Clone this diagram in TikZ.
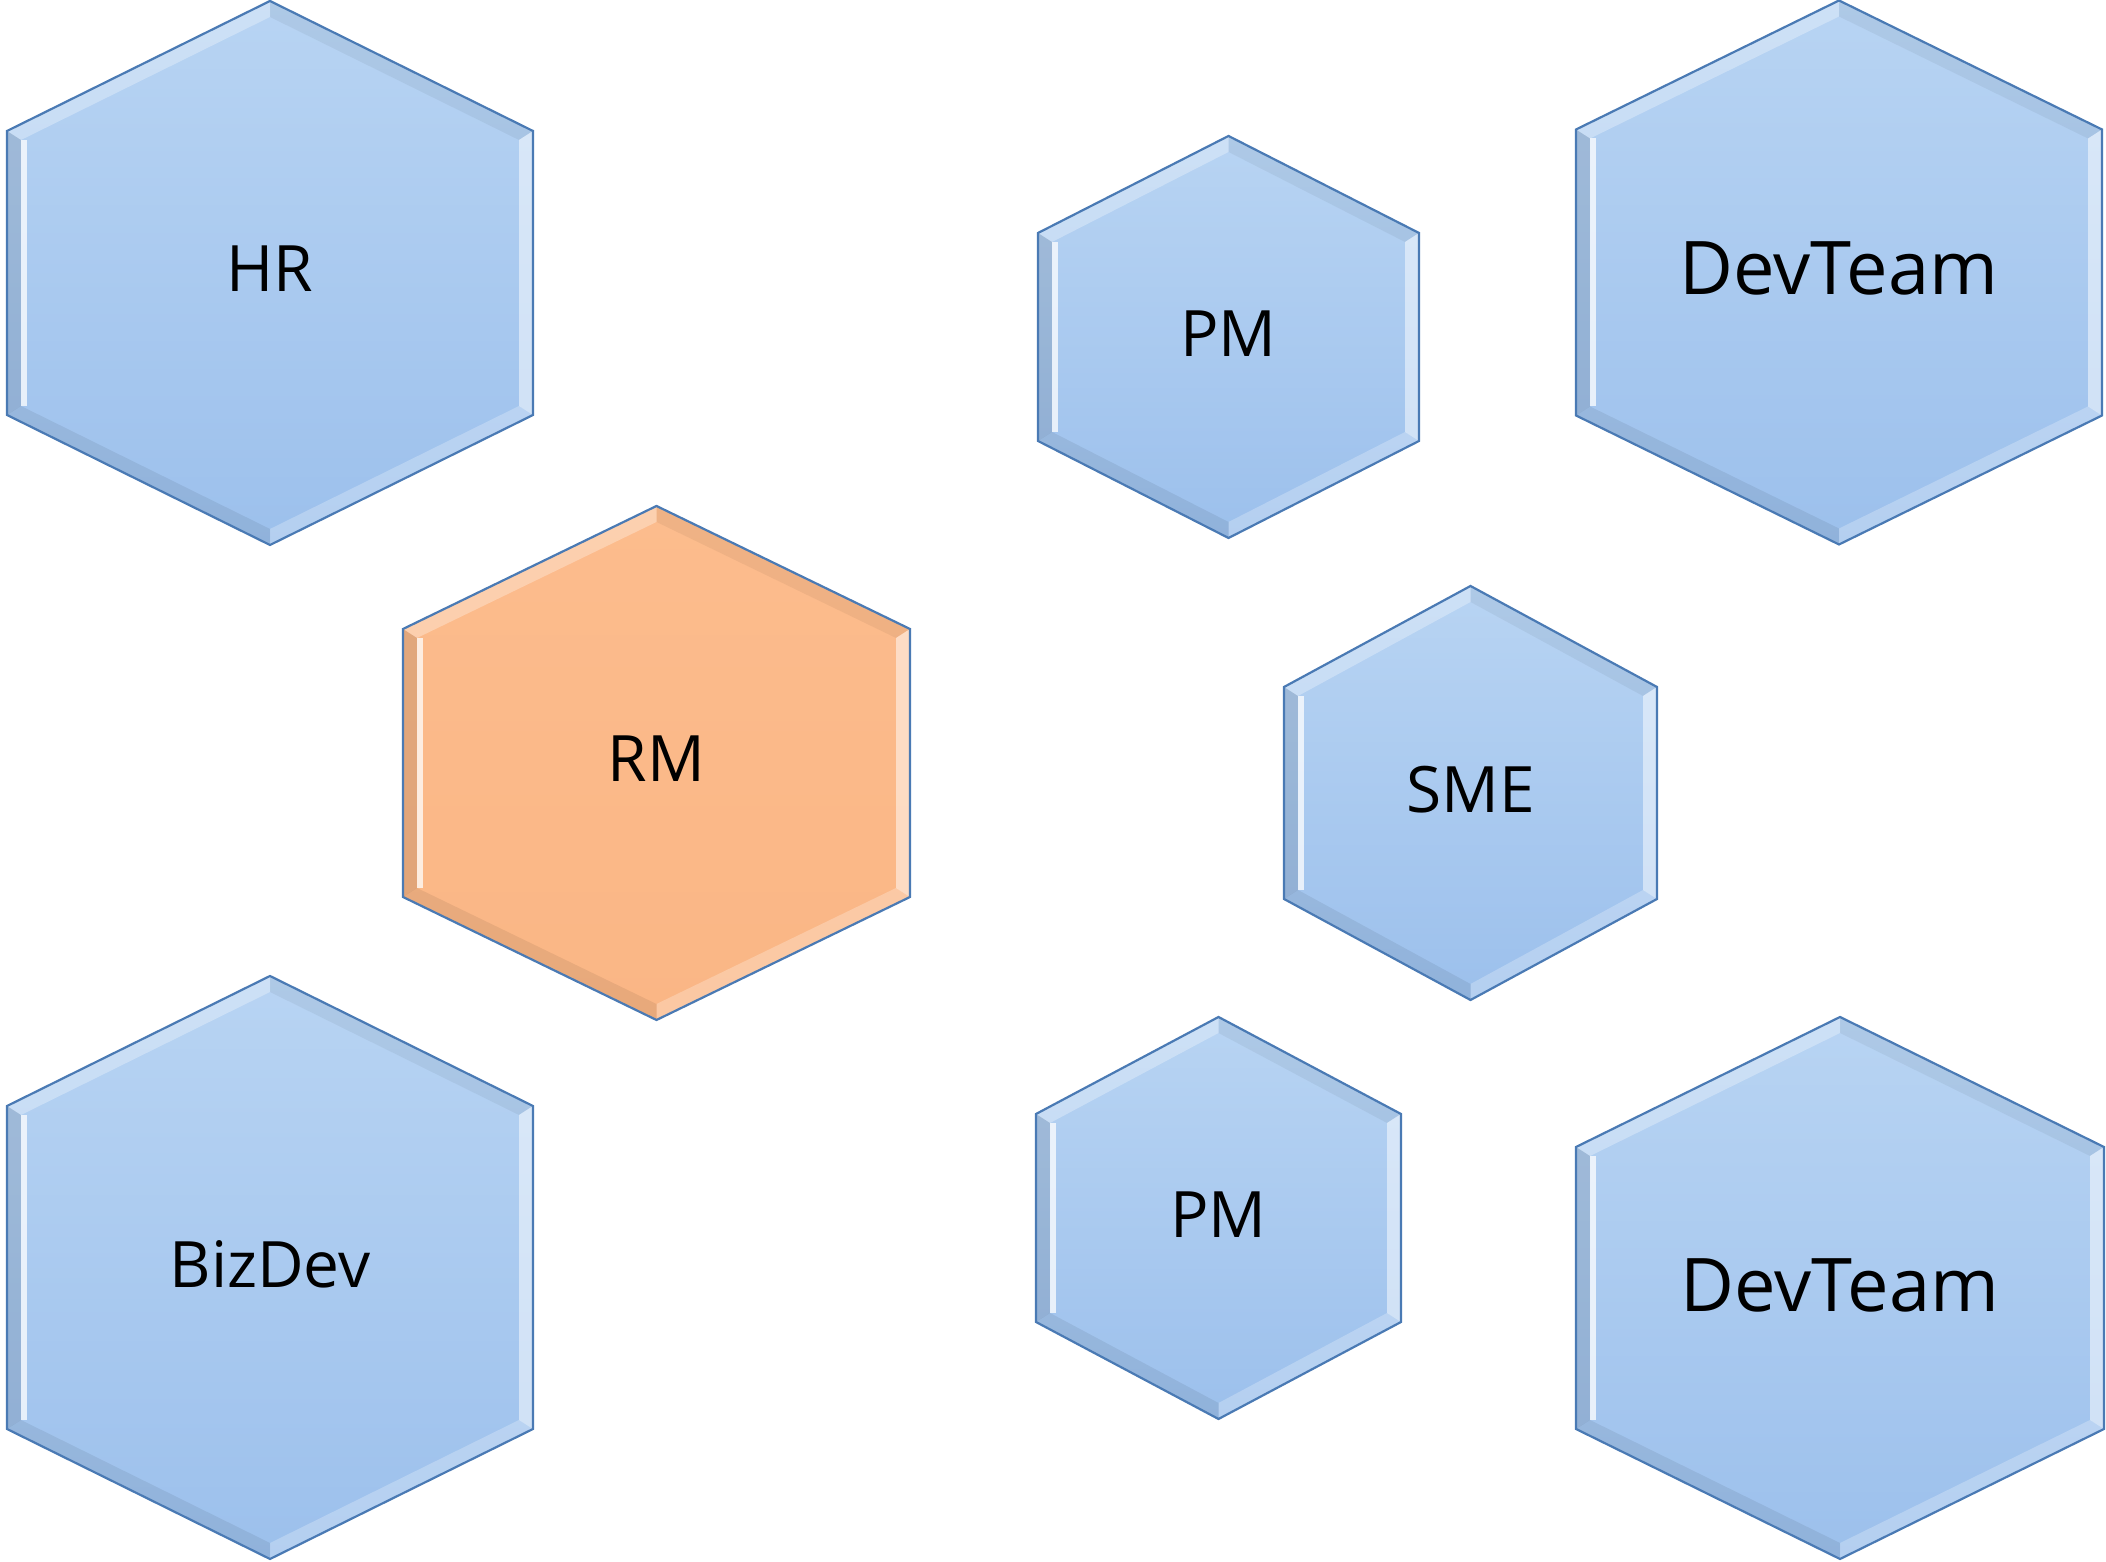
\documentclass[tikz,border=0pt]{standalone}
\usepackage{fontspec}
\setmainfont{Open Sans}
\usepackage{tikz}
\usepackage{xcolor}

\tikzset{
  hexline/.style={draw=lineColor,line width=2.2pt,line join=miter},
  celltext/.style={text=black,anchor=base,inner sep=0pt,outer sep=0pt,font=\fontsize{64}{70}\selectfont},
  bigtext/.style={celltext,font=\fontsize{74}{80}\selectfont}
}

% #1 cx, #2 cy, #3 half width, #4 half height, #5 slant, #6 top colour, #7 bottom colour
\newcommand{\hexcell}[7]{%
\begin{scope}[shift={(#1,#2)}]
\pgfmathsetmacro{\ha}{#3}\pgfmathsetmacro{\hb}{#4}\pgfmathsetmacro{\hs}{#4-#5}
\pgfmathsetmacro{\ia}{#3-14}\pgfmathsetmacro{\ib}{#4-16}\pgfmathsetmacro{\is}{#4-#5-9}
\shade[top color=#6,bottom color=#7] (0,\hb) -- (\ha,\hs) -- (\ha,-\hs) -- (0,-\hb) -- (-\ha,-\hs) -- (-\ha,\hs) -- cycle;
\fill[white,opacity=0.30] (-\ha,\hs) -- (0,\hb) -- (0,\ib) -- (-\ia,\is) -- cycle;
\fill[black,opacity=0.05] (0,\hb) -- (\ha,\hs) -- (\ia,\is) -- (0,\ib) -- cycle;
\fill[white,opacity=0.50] (\ha,\hs) -- (\ha,-\hs) -- (\ia,-\is) -- (\ia,\is) -- cycle;
\fill[white,opacity=0.25] (\ha,-\hs) -- (0,-\hb) -- (0,-\ib) -- (\ia,-\is) -- cycle;
\fill[black,opacity=0.07] (0,-\hb) -- (-\ha,-\hs) -- (-\ia,-\is) -- (0,-\ib) -- cycle;
\fill[black,opacity=0.10] (-\ha,-\hs) -- (-\ha,\hs) -- (-\ia,\is) -- (-\ia,-\is) -- cycle;
\fill[white,opacity=0.75] (-\ia,\is) rectangle (-\ia+6,-\is);
\path[hexline] (0,\hb) -- (\ha,\hs) -- (\ha,-\hs) -- (0,-\hb) -- (-\ha,-\hs) -- (-\ha,\hs) -- cycle;
\end{scope}}

\begin{document}
\begin{tikzpicture}[x=1pt,y=1pt]
\definecolor{fillColor}{RGB}{255,255,255}
\definecolor{lineColor}{RGB}{74,122,180}
\definecolor{blueTop}{RGB}{184,212,243}
\definecolor{blueBot}{RGB}{156,192,236}
\definecolor{orangeTop}{RGB}{252,188,141}
\definecolor{orangeBot}{RGB}{250,182,133}
\path[use as bounding box,fill=fillColor] (0,0) rectangle (2106,1562);

\hexcell{270}{1289}{263}{272}{130}{blueTop}{blueBot}
\hexcell{1228.5}{1225}{190.5}{201}{97}{blueTop}{blueBot}
\hexcell{1839}{1289.5}{263}{272}{129}{blueTop}{blueBot}
\hexcell{656.5}{799}{253.5}{257}{123}{orangeTop}{orangeBot}
\hexcell{1470.5}{769}{186.5}{207}{101}{blueTop}{blueBot}
\hexcell{1218.5}{344}{182.5}{201}{97}{blueTop}{blueBot}
\hexcell{270}{294.5}{263}{291.5}{130}{blueTop}{blueBot}
\hexcell{1840}{274}{264}{271}{130}{blueTop}{blueBot}

\node[celltext] (hr) at (270,1270) {HR};
\node[celltext] (pmtop) at (1228.5,1205) {PM};
\node[bigtext] (devtop) at (1839,1267) {DevTeam};
\node[celltext] (rm) at (656.5,780) {RM};
\node[celltext] (sme) at (1470.5,749) {SME};
\node[celltext] (pmbot) at (1218.5,324) {PM};
\node[celltext] (bizdev) at (270,274) {BizDev};
\node[bigtext] (devbot) at (1840,250) {DevTeam};
\end{tikzpicture}
\end{document}
